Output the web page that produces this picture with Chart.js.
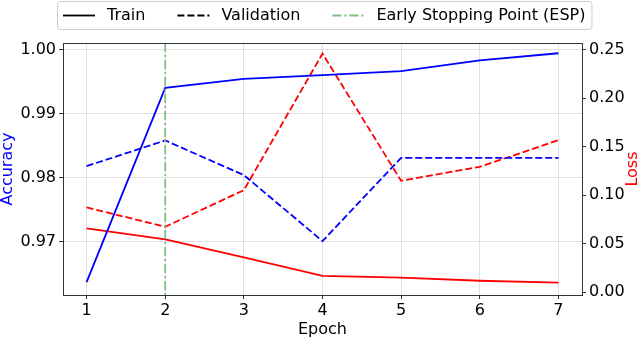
<!DOCTYPE html>
<html>
<head>
<meta charset="utf-8">
<script src="https://cdn.jsdelivr.net/npm/chart.js@4.4.1/dist/chart.umd.min.js"></script>
<style>
  html, body { margin: 0; padding: 0; background: #fff; }
  canvas { display: block; }
</style>
</head>
<body>
<canvas id="chart" width="640" height="339"></canvas>
<script>
'use strict';

// values
const epochs = [1, 2, 3, 4, 5, 6, 7];
const trainAcc = [0.9637, 0.9940, 0.9954, 0.9960, 0.9966, 0.9983, 0.9994];
const valAcc = [0.9818, 0.9858, 0.9804, 0.9701, 0.9831, 0.9831, 0.9831];
const trainLoss = [0.0658, 0.0545, 0.0360, 0.0168, 0.0150, 0.0119, 0.0099];
const valLoss = [0.0874, 0.0675, 0.1052, 0.2459, 0.1148, 0.1292, 0.1567];
const espEpoch = 2;

const accTicks = [0.97, 0.98, 0.99, 1.00];
const lossTicks = [0.00, 0.05, 0.10, 0.15, 0.20, 0.25];
const legendLabels = ['Train', 'Validation', 'Early Stopping Point (ESP)'];

const FONT = 'DejaVu Sans';
const DASH = [7, 3];
const DASHDOT = [9, 3, 2, 3];
const ESP_COLOR = '#7fbf7f';

Chart.defaults.font.family = FONT;
Chart.defaults.font.size = 16;
Chart.defaults.color = '#000';

const toPoints = (ys) => epochs.map((e, i) => ({ x: e, y: ys[i] }));

function lineSet(label, data, color, dash, axis) {
    return {
        label: label,
        data: toPoints(data),
        borderColor: color,
        borderWidth: 1.8,
        borderDash: dash,
        pointRadius: 0,
        fill: false,
        tension: 0,
        yAxisID: axis
    };
}

// ESP vertical line, frame top, "Loss" label and the legend box
const extras = {
    id: 'extras',
    afterDatasetsDraw(chart) {
        const { ctx, chartArea } = chart;
        const x = chart.scales.x.getPixelForValue(espEpoch);
        ctx.save();
        ctx.strokeStyle = ESP_COLOR;
        ctx.lineWidth = 1.8;
        ctx.setLineDash(DASHDOT);
        ctx.beginPath();
        ctx.moveTo(x, chartArea.top);
        ctx.lineTo(x, chartArea.bottom);
        ctx.stroke();
        ctx.restore();
    },
    afterDraw(chart) {
        const { ctx, chartArea } = chart;
        ctx.save();
        // top frame line
        ctx.strokeStyle = '#333';
        ctx.lineWidth = 1;
        ctx.beginPath();
        ctx.moveTo(chartArea.left, chartArea.top + 0.5);
        ctx.lineTo(chartArea.right, chartArea.top + 0.5);
        ctx.stroke();

        // right axis title, reading upwards
        ctx.fillStyle = '#ff0000';
        ctx.font = '16px ' + FONT;
        ctx.textAlign = 'center';
        ctx.textBaseline = 'middle';
        ctx.translate(633, (chartArea.top + chartArea.bottom) / 2);
        ctx.rotate(-Math.PI / 2);
        ctx.fillText('Loss', 0, 0);
        ctx.restore();

        // legend
        ctx.save();
        ctx.font = '16px ' + FONT;
        const pad = 6, handle = 32, textPad = 12, colGap = 32;
        const widths = legendLabels.map(t => ctx.measureText(t).width);
        let total = pad * 2 + legendLabels.length * (handle + textPad) + colGap * (legendLabels.length - 1);
        widths.forEach(w => total += w);
        const boxX = 57, boxY = 1, boxH = 28;
        ctx.fillStyle = 'rgba(255,255,255,0.8)';
        ctx.strokeStyle = '#cccccc';
        ctx.lineWidth = 1;
        ctx.beginPath();
        ctx.roundRect(boxX + 0.5, boxY + 0.5, total, boxH, 3);
        ctx.fill();
        ctx.stroke();

        const styles = [
            { color: '#000', dash: [] },
            { color: '#000', dash: DASH },
            { color: ESP_COLOR, dash: DASHDOT }
        ];
        const cy = boxY + boxH / 2 + 0.5;
        let cx = boxX + pad;
        legendLabels.forEach((t, i) => {
            ctx.strokeStyle = styles[i].color;
            ctx.lineWidth = 1.8;
            ctx.setLineDash(styles[i].dash);
            ctx.beginPath();
            ctx.moveTo(cx, cy);
            ctx.lineTo(cx + handle, cy);
            ctx.stroke();
            ctx.setLineDash([]);
            ctx.fillStyle = '#000';
            ctx.textAlign = 'left';
            ctx.textBaseline = 'middle';
            ctx.fillText(t, cx + handle + textPad, cy);
            cx += handle + textPad + widths[i] + colGap;
        });
        ctx.restore();
    }
};

new Chart(document.getElementById('chart'), {
    type: 'line',
    data: {
        datasets: [
            lineSet('Train Accuracy', trainAcc, '#0000ff', [], 'yAcc'),
            lineSet('Validation Accuracy', valAcc, '#0000ff', DASH, 'yAcc'),
            lineSet('Train Loss', trainLoss, '#ff0000', [], 'yLoss'),
            lineSet('Validation Loss', valLoss, '#ff0000', DASH, 'yLoss')
        ]
    },
    options: {
        responsive: false,
        animation: false,
        layout: { padding: { top: 43, left: 0, right: 0, bottom: 0 } },
        plugins: {
            legend: { display: false },
            tooltip: { enabled: false }
        },
        scales: {
            x: {
                type: 'linear',
                min: 0.7,
                max: 7.3,
                afterBuildTicks: (scale) => { scale.ticks = epochs.map(v => ({ value: v })); },
                afterFit: (scale) => { scale.height = 44; },
                ticks: { padding: 2, callback: (v) => String(v) },
                grid: { color: '#e0e0e0', lineWidth: 1, tickColor: '#333', tickLength: 4 },
                border: { color: '#333', width: 1 },
                title: { display: true, text: 'Epoch', font: { size: 16, lineHeight: 1.2 }, padding: { top: 0, bottom: 0 } }
            },
            yAcc: {
                type: 'linear',
                position: 'left',
                min: 0.9617,
                max: 1.0010,
                afterBuildTicks: (scale) => { scale.ticks = accTicks.map(v => ({ value: v })); },
                afterFit: (scale) => { scale.width = 63; },
                ticks: { padding: 3, callback: (v) => v.toFixed(2) },
                grid: { color: '#e0e0e0', lineWidth: 1, tickColor: '#333', tickLength: 4 },
                border: { color: '#333', width: 1 },
                title: { display: true, text: 'Accuracy', color: '#0000ff', font: { size: 16, lineHeight: 1 }, padding: { top: 0, bottom: 0 } }
            },
            yLoss: {
                type: 'linear',
                position: 'right',
                min: -0.0028,
                max: 0.2568,
                afterBuildTicks: (scale) => { scale.ticks = lossTicks.map(v => ({ value: v })); },
                afterFit: (scale) => { scale.width = 58; },
                ticks: { padding: 3, callback: (v) => v.toFixed(2) },
                grid: { drawOnChartArea: false, tickColor: '#333', tickLength: 4 },
                border: { color: '#333', width: 1 }
            }
        }
    },
    plugins: [extras]
});
</script>
</body>
</html>
